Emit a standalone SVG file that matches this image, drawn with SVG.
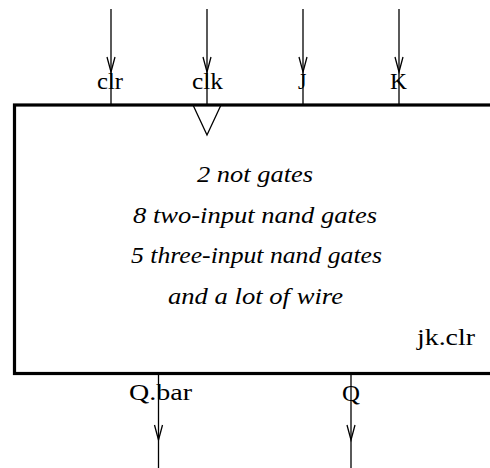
<svg xmlns="http://www.w3.org/2000/svg" width="490" height="468" viewBox="0 0 490 468">
<defs>
<marker id="v" markerUnits="userSpaceOnUse" markerWidth="20" markerHeight="12" viewBox="-16 -6 20 12" refX="0" refY="0" orient="auto" overflow="visible">
<path d="M-15,-4 L0,0 L-15,4" fill="none" stroke="#000" stroke-width="1.3"/>
</marker>
<style>
.box{fill:#fff;stroke:#000;stroke-width:3.2}
.wire{fill:none;stroke:#000;stroke-width:1.3;marker-mid:url(#v)}
.lbl{font-family:"Liberation Serif","Times New Roman",serif;font-size:23px;fill:#000}
.body{font-family:"Liberation Serif","Times New Roman",serif;font-size:23px;font-style:italic;fill:#000;text-anchor:middle}
</style>
</defs>
<rect width="490" height="468" fill="#fff"/>
<g id="jk-clr">
<rect class="box" x="14.5" y="105" width="490" height="268.5"/>
<path d="M193,105 L207,135 L221,105" fill="none" stroke="#000" stroke-width="1.3"/>
<text class="body" x="255" y="182" textLength="116" lengthAdjust="spacingAndGlyphs">2 not gates</text>
<text class="body" x="255" y="223" textLength="244" lengthAdjust="spacingAndGlyphs">8 two-input nand gates</text>
<text class="body" x="256.5" y="263" textLength="251" lengthAdjust="spacingAndGlyphs">5 three-input nand gates</text>
<text class="body" x="255.5" y="304" textLength="175" lengthAdjust="spacingAndGlyphs">and a lot of wire</text>
<text class="lbl" x="417" y="345" textLength="58" lengthAdjust="spacingAndGlyphs">jk.clr</text>
</g>
<g id="connectors">
<path class="wire" d="M111,9 L111,72 L111,105"/>
<path class="wire" d="M207,9 L207,72 L207,105"/>
<path class="wire" d="M303,9 L303,72 L303,105"/>
<path class="wire" d="M399,9 L399,72 L399,105"/>
<path class="wire" d="M158.5,373 L158.5,440 L158.5,468"/>
<path class="wire" d="M351,373 L351,440 L351,468"/>
</g>
<g id="labels">
<text class="lbl" x="97" y="89" textLength="26" lengthAdjust="spacingAndGlyphs">clr</text>
<text class="lbl" x="192" y="89" textLength="31" lengthAdjust="spacingAndGlyphs">clk</text>
<text class="lbl" x="298" y="89" textLength="8.5" lengthAdjust="spacingAndGlyphs">J</text>
<text class="lbl" x="390" y="89" textLength="17" lengthAdjust="spacingAndGlyphs">K</text>
<text class="lbl" x="129" y="400" textLength="63" lengthAdjust="spacingAndGlyphs">Q.bar</text>
<text class="lbl" x="342" y="401" textLength="18" lengthAdjust="spacingAndGlyphs">Q</text>
</g>
</svg>
